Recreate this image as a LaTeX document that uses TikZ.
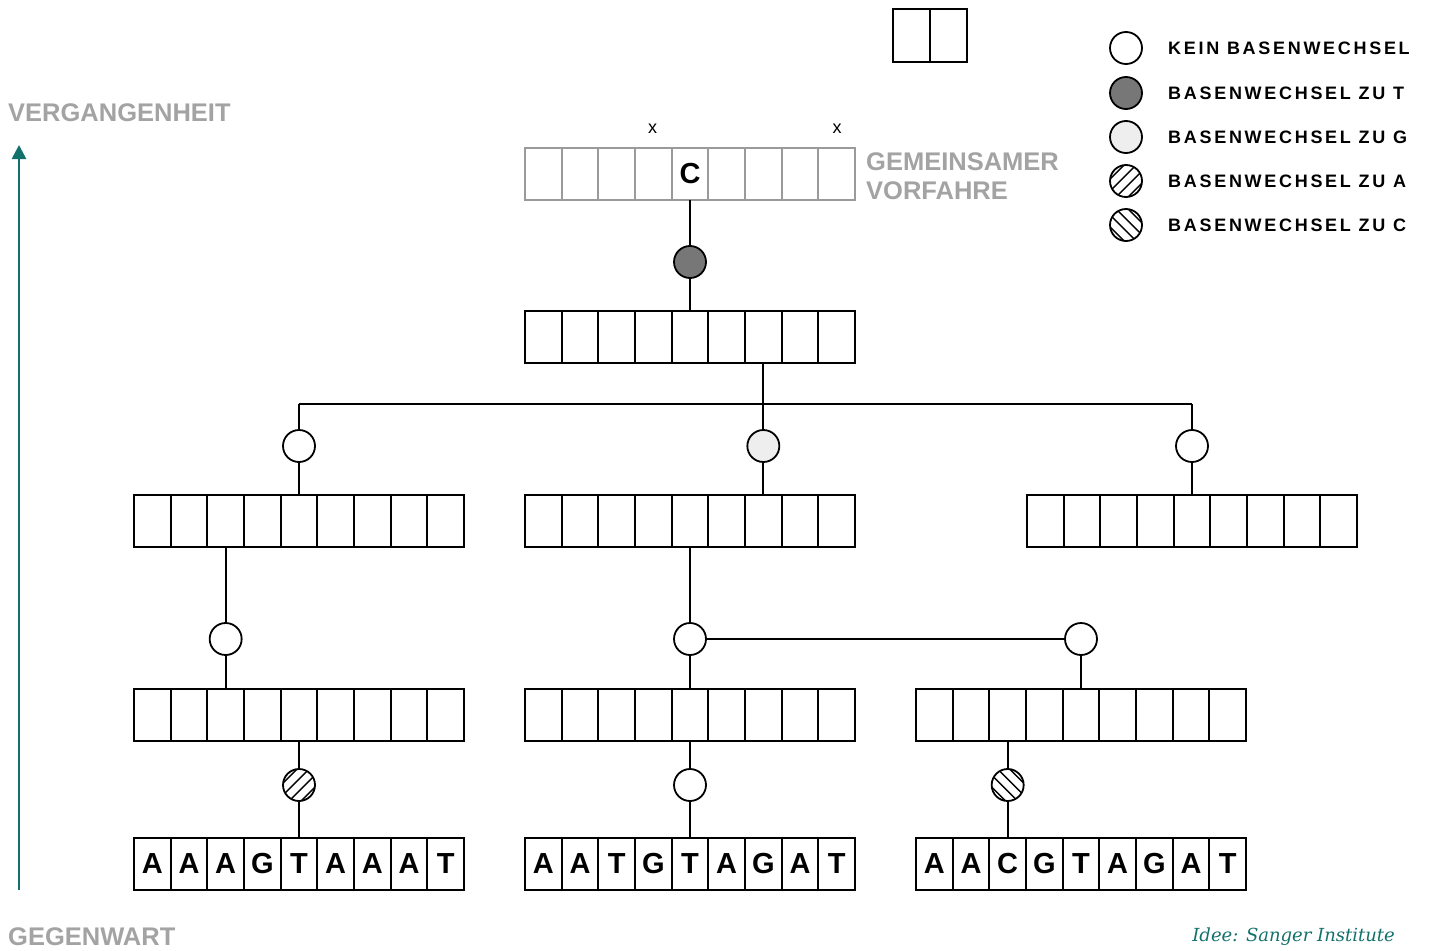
\documentclass[tikz,border=0pt]{standalone}
\usepackage{fontspec}
\setmainfont{Liberation Sans}
\IfFontExistsTF{LiberationSans-Bold.ttf}{%
  \newfontfamily\boldsans{LiberationSans-Bold.ttf}
  \newfontfamily\legfont{LiberationSans-Bold.ttf}[LetterSpace=15]
}{%
  \newfontfamily\boldsans{texgyreheros-bold.otf}
  \newfontfamily\legfont{texgyreheros-bold.otf}[LetterSpace=15]
}
\IfFontExistsTF{DejaVuSerif-Italic.ttf}{%
  \newfontfamily\ideefont{DejaVuSerif-Italic.ttf}
}{%
  \newfontfamily\ideefont{texgyretermes-italic.otf}
}
\usetikzlibrary{calc,arrows.meta}
\definecolor{tealc}{HTML}{13716C}
\definecolor{greytxt}{HTML}{A3A3A3}
\definecolor{greybox}{HTML}{9A9A9A}
\definecolor{darkc}{HTML}{777777}
\definecolor{lightc}{HTML}{EEEEEE}
\tikzset{
  seqbox/.style={draw, line width=1.8pt, minimum width=330pt, minimum height=52pt, inner sep=0pt, outer sep=0pt},
  mut/.style={circle, draw, line width=1.8pt, minimum size=32pt, inner sep=0pt, fill=white},
  conn/.style={line width=1.8pt},
  letter/.style={inner sep=0pt, font=\fontsize{29}{30}\boldsans},
  greylabel/.style={inner sep=0pt, text=greytxt, font=\fontsize{25.5}{29}\boldsans},
  legtext/.style={inner sep=0pt, anchor=west, font=\fontsize{18}{20}\legfont},
  hatchA/.style={path picture={\foreach \k in {-1.5,-0.5,0.5,1.5}{\draw[line width=1.4pt] ($(path picture bounding box.center)+(\k*6-20,\k*6+20)$) -- ++(40,-40);}}},
  hatchC/.style={path picture={\foreach \k in {-1.5,-0.5,0.5,1.5}{\draw[line width=1.4pt] ($(path picture bounding box.center)+(\k*6-20,-\k*6-20)$) -- ++(40,40);}}},
}
\newcommand{\seqrow}[3][black]{%
  \node[seqbox, draw=#1] (#2) at (#3) {};
  \foreach \i in {1,...,9}{%
    \coordinate (#2-\i-n) at ([xshift={(\i-0.5)*330/9}]#2.north west);
    \coordinate (#2-\i-s) at ([xshift={(\i-0.5)*330/9}]#2.south west);
  }
  \foreach \i in {1,...,8}{%
    \draw[line width=1.8pt, draw=#1] ([xshift={\i*330/9}]#2.north west) -- ([xshift={\i*330/9}]#2.south west);
  }
}
\newcommand{\seqletters}[2]{%
  \foreach \l [count=\i] in {#2}{%
    \node[letter] (#1-L\i) at ($(#1-\i-n)!0.5!(#1-\i-s)$) {\l};
  }
}
\begin{document}
\begin{tikzpicture}[x=1pt,y=-1pt]
\path[use as bounding box] (0,0) rectangle (1429,950);

% time arrow
\coordinate (tbot) at (19,890);
\coordinate (ttop) at (19,145);
\draw[tealc, line width=2.6pt, -{Triangle[width=14pt,length=14pt]}] (tbot) -- (ttop);
\node[greylabel, anchor=west] (past) at (8,113) {VERGANGENHEIT};
\node[greylabel, anchor=west] (now) at (8,937) {GEGENWART};

% small top box
\node[draw, line width=2.4pt, minimum width=74pt, minimum height=53pt, inner sep=0pt] (tb) at (930,35.5) {};
\draw[line width=2.4pt] (tb.north) -- (tb.south);

% ancestor
\seqrow[greybox]{anc}{690,174}
\node[letter] (anc-C) at ($(anc-5-n)!0.5!(anc-5-s)$) {C};
\node[inner sep=0pt, font=\fontsize{18}{18}\selectfont] (x1) at (652.5,129) {x};
\node[inner sep=0pt, font=\fontsize{18}{18}\selectfont] (x2) at (837,129) {x};
\node[greylabel, anchor=west] (gem1) at (866,162) {GEMEINSAMER};
\node[greylabel, anchor=west] (gem2) at (866,191) {VORFAHRE};

% rows
\seqrow{r2}{690,337}
\seqrow{r3L}{299,521}
\seqrow{r3M}{690,521}
\seqrow{r3R}{1192,521}
\seqrow{r4L}{299,715}
\seqrow{r4M}{690,715}
\seqrow{r4R}{1081,715}
\seqrow{r5L}{299,864}
\seqrow{r5M}{690,864}
\seqrow{r5R}{1081,864}
\seqletters{r5L}{A,A,A,G,T,A,A,A,T}
\seqletters{r5M}{A,A,T,G,T,A,G,A,T}
\seqletters{r5R}{A,A,C,G,T,A,G,A,T}

% mutation circles
\node[mut, fill=darkc] (c0) at (anc-5-s |- 0,262) {};
\node[mut] (c1L) at (r3L-5-n |- 0,446) {};
\node[mut, fill=lightc] (c1M) at (r2-7-s |- 0,446) {};
\node[mut] (c1R) at (r3R-5-n |- 0,446) {};
\node[mut] (c2L) at (r3L-3-s |- 0,639) {};
\node[mut] (c2M) at (r3M-5-s |- 0,639) {};
\node[mut] (c2R) at (r4R-5-n |- 0,639) {};
\node[mut, hatchA] (c3L) at (r4L-5-s |- 0,785) {};
\node[mut] (c3M) at (r4M-5-s |- 0,785) {};
\node[mut, hatchC] (c3R) at (r4R-3-s |- 0,785) {};

% connectors
\coordinate (jM) at (r2-7-s |- 0,404);
\coordinate (jL) at (c1L |- jM);
\coordinate (jR) at (c1R |- jM);
\draw[conn] (anc-5-s) -- (c0);
\draw[conn] (c0) -- (r2-5-n);
\draw[conn] (r2-7-s) -- (c1M);
\draw[conn] (jL) -- (jR);
\draw[conn] (jL) -- (c1L);
\draw[conn] (jR) -- (c1R);
\draw[conn] (c1L) -- (r3L-5-n);
\draw[conn] (c1M) -- (r3M-7-n);
\draw[conn] (c1R) -- (r3R-5-n);
\draw[conn] (r3L-3-s) -- (c2L);
\draw[conn] (c2L) -- (r4L-3-n);
\draw[conn] (r3M-5-s) -- (c2M);
\draw[conn] (c2M) -- (r4M-5-n);
\draw[conn] (c2M) -- (c2R);
\draw[conn] (c2R) -- (r4R-5-n);
\draw[conn] (r4L-5-s) -- (c3L);
\draw[conn] (c3L) -- (r5L-5-n);
\draw[conn] (r4M-5-s) -- (c3M);
\draw[conn] (c3M) -- (r5M-5-n);
\draw[conn] (r4R-3-s) -- (c3R);
\draw[conn] (c3R) -- (r5R-3-n);

% legend
\node[mut] (lg1) at (1126,48) {};
\node[mut, fill=darkc] (lg2) at (1126,93) {};
\node[mut, fill=lightc] (lg3) at (1126,137) {};
\node[mut, hatchA] (lg4) at (1126,181) {};
\node[mut, hatchC] (lg5) at (1126,225) {};
\node[legtext] (lt1) at (1168,48) {KEIN BASENWECHSEL};
\node[legtext] (lt2) at (1168,93) {BASENWECHSEL ZU T};
\node[legtext] (lt3) at (1168,137) {BASENWECHSEL ZU G};
\node[legtext] (lt4) at (1168,181) {BASENWECHSEL ZU A};
\node[legtext] (lt5) at (1168,225) {BASENWECHSEL ZU C};

% credit
\node[inner sep=0pt, anchor=east, text=tealc, font=\fontsize{18}{20}\ideefont] (idee) at (1395,937) {Idee: Sanger Institute};
\end{tikzpicture}
\end{document}
